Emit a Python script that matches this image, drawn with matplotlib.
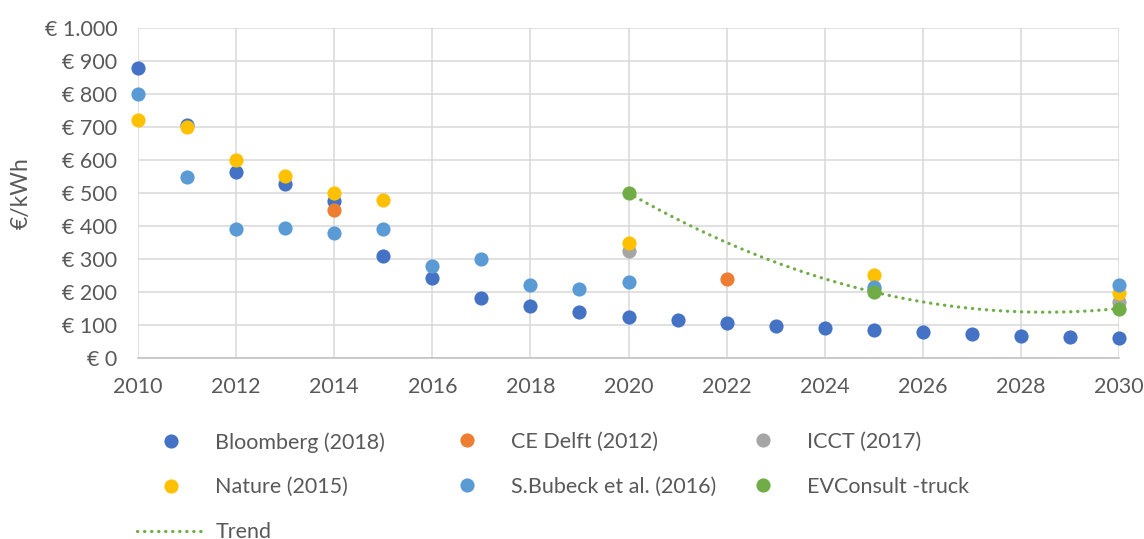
import matplotlib
matplotlib.use("Agg")
import matplotlib.pyplot as plt
from matplotlib.ticker import FuncFormatter, MultipleLocator
import numpy as np

plt.rcParams['font.family'] = ['Lato', 'DejaVu Sans']

# battery pack price estimates, EUR per kWh
bloomberg_years = [2010, 2011, 2012, 2013, 2014, 2015, 2016, 2017, 2018, 2019, 2020,
                   2021, 2022, 2023, 2024, 2025, 2026, 2027, 2028, 2029, 2030]
bloomberg_vals = [880, 705, 565, 526, 476, 309, 242, 183, 158, 138, 125,
                  116, 106, 98, 92, 84, 78, 74, 68, 64, 61]

cedelft_years = [2014, 2022]
cedelft_vals = [450, 240]

icct_years = [2020, 2025, 2030]
icct_vals = [325, 210, 170]

nature_years = [2010, 2011, 2012, 2013, 2014, 2015, 2020, 2025, 2030]
nature_vals = [720, 700, 601, 551, 501, 480, 350, 251, 198]

bubeck_years = [2010, 2011, 2012, 2013, 2014, 2015, 2016, 2017, 2018, 2019, 2020, 2025, 2030]
bubeck_vals = [800, 550, 390, 395, 380, 390, 280, 300, 220, 210, 229, 216, 221]

evc_years = [2020, 2025, 2030]
evc_vals = [500, 200, 150]

series = [
    ("Bloomberg (2018)", bloomberg_years, bloomberg_vals, "#4472C4"),
    ("CE Delft (2012)", cedelft_years, cedelft_vals, "#ED7D31"),
    ("ICCT (2017)", icct_years, icct_vals, "#A5A5A5"),
    ("Nature (2015)", nature_years, nature_vals, "#FFC000"),
    ("S.Bubeck et al. (2016)", bubeck_years, bubeck_vals, "#5B9BD5"),
    ("EVConsult -truck", evc_years, evc_vals, "#70AD47"),
]

txt = "#595959"
grid_c = "#D9D9D9"
fs = 15.5

fig = plt.figure(figsize=(11.44, 5.39), dpi=100)
ax = fig.add_axes([138/1144, 1 - 358/539, 981/1144, 330/539])

handles = {}
for i, (name, xs, ys, col) in enumerate(series):
    h, = ax.plot(xs, ys, linestyle='none', marker='o', markersize=10.2,
                 color=col, markeredgewidth=0, clip_on=False, zorder=3 + i)
    handles[name] = h

# polynomial trend (order 2) through the EVConsult points
coef = np.polyfit(evc_years, evc_vals, 2)
tx = np.linspace(evc_years[0], evc_years[-1], 200)
trend, = ax.plot(tx, np.polyval(coef, tx), color="#70AD47", linewidth=2.3,
                 linestyle=(0, (0.1, 2.1)), dash_capstyle='round', zorder=2)

ax.set_xlim(2010, 2030)
ax.set_ylim(0, 1000)
ax.xaxis.set_major_locator(MultipleLocator(2))
ax.yaxis.set_major_locator(MultipleLocator(100))
ax.yaxis.set_major_formatter(FuncFormatter(lambda v, p: f"€ {v:,.0f}".replace(",", ".")))
ax.grid(True, color=grid_c, linewidth=1.1, zorder=0)
ax.set_axisbelow(True)
for s in ['top', 'right', 'left']:
    ax.spines[s].set_visible(False)
ax.spines['bottom'].set_color("#BFBFBF")
ax.spines['bottom'].set_linewidth(1.1)
ax.tick_params(axis='both', length=0, labelsize=fs, labelcolor=txt)
ax.tick_params(axis='y', pad=15)
ax.tick_params(axis='x', pad=14)
ax.set_ylabel("€/kWh", fontsize=16.5, color=txt)
ax.yaxis.set_label_coords(-0.108, 0.5)

# legend laid out in three columns like the original
cols = [
    (137, ["Bloomberg (2018)", "Nature (2015)", "Trend"]),
    (433, ["CE Delft (2012)", "S.Bubeck et al. (2016)"]),
    (729, ["ICCT (2017)", "EVConsult -truck"]),
]
for x0, names in cols:
    hs = [trend if n == "Trend" else handles[n] for n in names]
    leg = fig.legend(hs, names, loc='upper left', bbox_to_anchor=(x0/1144, 1 - 432/539),
                     frameon=False, fontsize=fs, handlelength=3.16, handletextpad=0.47,
                     labelspacing=1.15, borderpad=0, borderaxespad=0)
    for t in leg.get_texts():
        t.set_color(txt)

fig.savefig("out.png", dpi=100)
